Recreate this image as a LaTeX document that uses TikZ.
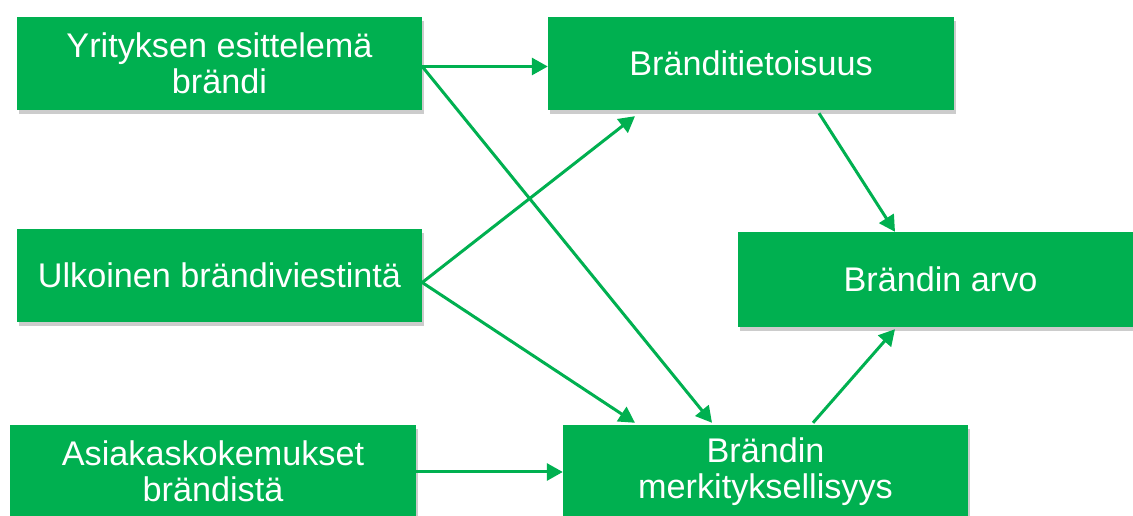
\documentclass[tikz,border=0pt]{standalone}
\usepackage{fontspec}
\setmainfont{Liberation Sans}
\usepackage{xcolor}
\usetikzlibrary{arrows.meta, shadows}
\definecolor{brandgreen}{HTML}{00B050}

\begin{document}
\begin{tikzpicture}[x=1pt, y=1pt, >={Triangle[length=16pt, width=17pt]},
    box/.style={fill=brandgreen, text=white, inner sep=0pt, align=center,
        minimum width=405pt, minimum height=93pt,
        font=\fontsize{34.2}{36}\selectfont,
        drop shadow={shadow xshift=1.5pt, shadow yshift=-4pt, opacity=0.2, fill=black}},
    link/.style={->, brandgreen, line width=3pt}]

\useasboundingbox (0,0) rectangle (1133,516);

% ── LEFT: sources ─────────────────────────────────────────────────
\node[box] (esitt) at (219.5, 452.5) {Yrityksen esittelemä\\brändi};
\node[box] (ulkoinen) at (219.5, 240.5) {Ulkoinen brändiviestintä};
\node[box, minimum width=406pt] (asiakas) at (213, 44.5) {Asiakaskokemukset\\brändistä};

% ── MIDDLE / RIGHT: outcomes ──────────────────────────────────────
\node[box, minimum width=406pt] (tietoisuus) at (751, 452.5) {Bränditietoisuus};
\node[box] (merkitys) at (765.5, 44.5) {Brändin\\merkityksellisyys};
\node[box, minimum height=95pt] (arvo) at (940.5, 236.5) {Brändin arvo};

% Links
\draw[link] ([yshift=-3pt]esitt.east) -- ([yshift=-3pt]tietoisuus.west);
\draw[link] ([yshift=-3pt]esitt.east) -- ([xshift=-53.5pt, yshift=2pt]merkitys.north);
\draw[link] ([yshift=-7pt]ulkoinen.east) -- ([xshift=-116pt, yshift=-6pt]tietoisuus.south);
\draw[link] ([yshift=-7pt]ulkoinen.east) -- ([xshift=-130.5pt, yshift=2pt]merkitys.north);
\draw[link] ([yshift=-0.5pt]asiakas.east) -- ([yshift=-0.5pt]merkitys.west);

\draw[link] ([xshift=68pt, yshift=-3pt]tietoisuus.south) -- ([xshift=-45.5pt]arvo.north);
\draw[link] ([xshift=47.5pt, yshift=2pt]merkitys.north) -- ([xshift=-45.5pt, yshift=-2pt]arvo.south);

\end{tikzpicture}
\end{document}
